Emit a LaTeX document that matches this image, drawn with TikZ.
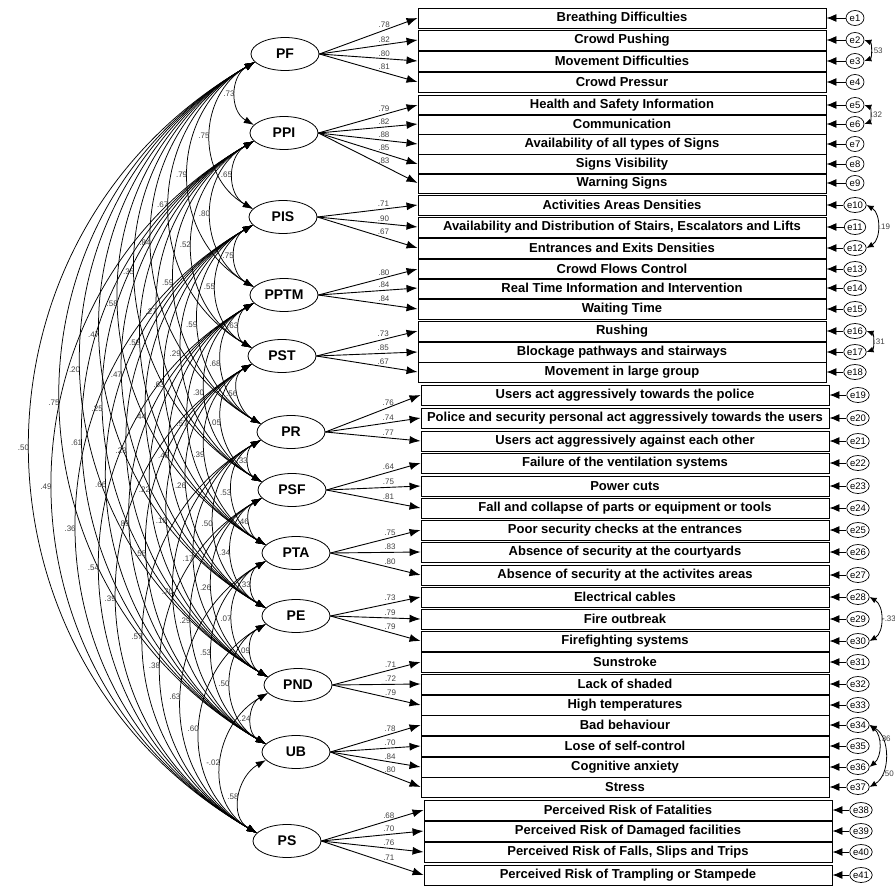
\documentclass[tikz,border=0pt]{standalone}
\usepackage{fontspec}
\setmainfont{Liberation Sans}
\usetikzlibrary{arrows.meta, positioning, shapes}

\tikzset{
  latent/.style={draw, ellipse, line width=0.8pt, minimum width=68pt, minimum height=33pt, inner sep=0pt, font=\fontsize{14}{16}\selectfont\bfseries},
  item/.style={draw, rectangle, line width=0.9pt, minimum width=408pt, minimum height=20pt, inner sep=0pt, font=\fontsize{13}{15}\selectfont\bfseries},
  err/.style={draw, ellipse, line width=0.7pt, minimum width=18pt, minimum height=15pt, inner sep=0pt, font=\fontsize{9.5}{10}\selectfont},
  load/.style={-{Latex[length=11pt,width=8pt]}, line width=0.9pt},
  cov/.style={{Latex[length=10pt,width=7pt]}-{Latex[length=10pt,width=7pt]}, line width=0.75pt},
  ecov/.style={{Latex[length=7pt,width=6pt]}-{Latex[length=7pt,width=6pt]}, line width=0.8pt},
  earrow/.style={-{Latex[length=10pt,width=8pt]}, line width=0.9pt},
  num/.style={font=\fontsize{8}{9}\selectfont, text=black!75, inner sep=1pt},
}

\begin{document}
\begin{tikzpicture}[x=1pt, y=1pt]
  \useasboundingbox (0,0) rectangle (895,-886);

  % Latent factors
  \node[latent] (PF)   at (285,-54)  {PF};
  \node[latent] (PPI)  at (284,-133) {PPI};
  \node[latent] (PIS)  at (283,-217) {PIS};
  \node[latent] (PPTM) at (284,-295) {PPTM};
  \node[latent] (PST)  at (282,-356) {PST};
  \node[latent] (PR)   at (291,-432) {PR};
  \node[latent] (PSF)  at (292,-490) {PSF};
  \node[latent] (PTA)  at (296,-553) {PTA};
  \node[latent] (PE)   at (296,-616) {PE};
  \node[latent] (PND)  at (298,-685) {PND};
  \node[latent] (UB)   at (296,-752) {UB};
  \node[latent] (PS)   at (287,-841) {PS};

  % Observed items and their errors
  \foreach \i/\y/\x/\txt in {
    1/18/622/Breathing Difficulties, 2/40/622/Crowd Pushing,
    3/61/622/Movement Difficulties, 4/82/622/Crowd Pressur,
    5/105/622/Health and Safety Information, 6/124/622/Communication,
    7/144/622/Availability of all types of Signs, 8/164/622/Signs Visibility,
    9/183/622/Warning Signs, 10/205/622/Activities Areas Densities,
    11/227/622/{Availability and Distribution of Stairs, Escalators and Lifts},
    12/248/622/Entrances and Exits Densities, 13/269/622/Crowd Flows Control,
    14/288/622/Real Time Information and Intervention, 15/309/622/Waiting Time,
    16/331/622/Rushing, 17/352/622/Blockage pathways and stairways,
    18/372/622/Movement in large group,
    19/395/625/Users act aggressively towards the police,
    20/418/625/Police and security personal act aggressively towards the users,
    21/441/625/Users act aggressively against each other,
    22/463/625/Failure of the ventilation systems, 23/486/625/Power cuts,
    24/508/625/Fall and collapse of parts or equipment or tools,
    25/530/625/Poor security checks at the entrances,
    26/552/625/Absence of security at the courtyards,
    27/575/625/Absence of security at the activites areas,
    28/597/625/Electrical cables, 29/619/625/Fire outbreak,
    30/641/625/Firefighting systems, 31/662/625/Sunstroke,
    32/684/625/Lack of shaded, 33/705/625/High temperatures,
    34/725/625/Bad behaviour, 35/746/625/Lose of self-control,
    36/767/625/Cognitive anxiety, 37/787/625/Stress,
    38/810/628/Perceived Risk of Fatalities,
    39/831/628/Perceived Risk of Damaged facilities,
    40/852/628/{Perceived Risk of Falls, Slips and Trips},
    41/875/628/Perceived Risk of Trampling or Stampede} {
    \node[item] (b\i) at (\x,-\y) {\txt};
    \node[err] (e\i) at ({\x+233},-\y) {e\i};
    \draw[earrow] (e\i) -- (b\i.east);
  }

  % Loadings
  \foreach \lat/\i/\v in {
    PF/1/.78, PF/2/.82, PF/3/.80, PF/4/.81,
    PPI/5/.79, PPI/6/.82, PPI/7/.88, PPI/8/.85, PPI/9/.83,
    PIS/10/.71, PIS/11/.90, PIS/12/.67,
    PPTM/13/.80, PPTM/14/.84, PPTM/15/.84,
    PST/16/.73, PST/17/.85, PST/18/.67,
    PR/19/.76, PR/20/.74, PR/21/.77,
    PSF/22/.64, PSF/23/.75, PSF/24/.81,
    PTA/25/.75, PTA/26/.83, PTA/27/.80,
    PE/28/.73, PE/29/.79, PE/30/.79,
    PND/31/.71, PND/32/.72, PND/33/.79,
    UB/34/.78, UB/35/.70, UB/36/.84, UB/37/.80,
    PS/38/.68, PS/39/.70, PS/40/.76, PS/41/.71} {
    \draw[load] (\lat.east) -- node[num, pos=0.66, above=1pt] {\v} (b\i.west);
  }

  % Correlations between factors
  \foreach \a/\b/\v in {
    PF/PPI/.73, PF/PIS/.75, PF/PPTM/.79, PF/PST/.67, PF/PR/.84, PF/PSF/.35,
    PF/PTA/.58, PF/PE/.47, PF/PND/.20, PF/UB/.75, PF/PS/.50,
    PPI/PIS/.65, PPI/PPTM/.80, PPI/PST/.52, PPI/PR/.59, PPI/PSF/.27,
    PPI/PTA/.58, PPI/PE/.47, PPI/PND/.25, PPI/UB/.61, PPI/PS/.49,
    PIS/PPTM/.75, PIS/PST/.55, PIS/PR/.59, PIS/PSF/.29, PIS/PTA/.63,
    PIS/PE/.44, PIS/PND/.23, PIS/UB/.66, PIS/PS/.36,
    PPTM/PST/.63, PPTM/PR/.68, PPTM/PSF/.30, PPTM/PTA/.57, PPTM/PE/.48,
    PPTM/PND/.22, PPTM/UB/.89, PPTM/PS/.54,
    PST/PR/.56, PST/PSF/.05, PST/PTA/.39, PST/PE/.26, PST/PND/.18,
    PST/UB/.55, PST/PS/.39,
    PR/PSF/.33, PR/PTA/.53, PR/PE/.50, PR/PND/.17, PR/UB/.70, PR/PS/.57,
    PSF/PTA/.46, PSF/PE/.34, PSF/PND/.26, PSF/UB/.29, PSF/PS/.38,
    PTA/PE/.33, PTA/PND/.07, PTA/UB/.53, PTA/PS/.63,
    PE/PND/.09, PE/UB/.50, PE/PS/.60,
    PND/UB/.24, PND/PS/-.02,
    UB/PS/.58} {
    \draw[cov] (\a.195) to[out=210, in=150, looseness=1.15] node[num, midway, anchor=east] {\v} (\b.165);
  }

  % Error covariances
  \draw[ecov] (e2.east) to[bend left=70] node[num, right] {.53} (e3.east);
  \draw[ecov] (e5.east) to[bend left=70] node[num, right] {.32} (e6.east);
  \draw[ecov] (e10.east) to[bend left=60] node[num, right] {.19} (e12.east);
  \draw[ecov] (e16.east) to[bend left=70] node[num, right] {.31} (e17.east);
  \draw[ecov] (e28.east) to[bend left=60] node[num, right] {-.33} (e30.east);
  \draw[ecov] (e34.east) to[bend left=50] node[num, right, pos=0.35] {.36} (e36.east);
  \draw[ecov] (e34.east) to[bend left=60] node[num, right, pos=0.75] {.50} (e37.east);
\end{tikzpicture}
\end{document}
